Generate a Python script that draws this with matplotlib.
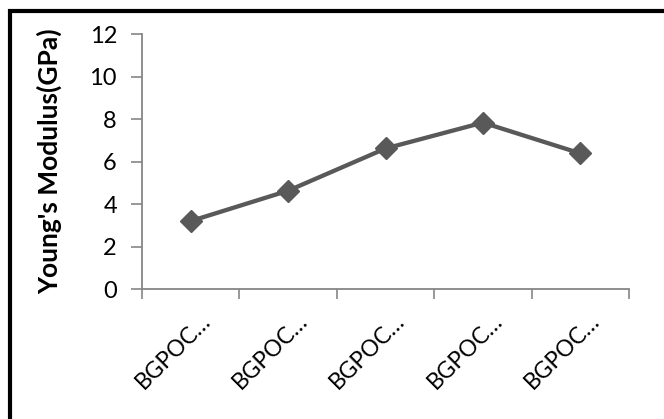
import matplotlib
matplotlib.use("Agg")
import matplotlib.pyplot as plt
from matplotlib.patches import Rectangle
from matplotlib.lines import Line2D

# Data
categories = ["BGPOC…", "BGPOC…", "BGPOC…", "BGPOC…", "BGPOC…"]
modulus_gpa = [3.2, 4.63, 6.62, 7.84, 6.39]
y_ticks = [0, 2, 4, 6, 8, 10, 12]

plt.rcParams["font.family"] = ["Lato", "DejaVu Sans"]

W, H, DPI = 664, 419, 100
fig = plt.figure(figsize=(W / DPI, H / DPI), dpi=DPI)
fig.patch.set_facecolor("white")

# axes box in pixel terms
left_px, right_px, bottom_px, top_px = 142, 629, 289, 34.3
ax = fig.add_axes([left_px / W, 1 - bottom_px / H,
                   (right_px - left_px) / W, (bottom_px - top_px) / H])

x = list(range(len(categories)))
ax.plot(x, modulus_gpa, color="#595959", lw=3.1, marker="D", ms=11,
        mec="#595959", mfc="#595959", solid_joinstyle="miter", zorder=3)

ax.set_xlim(-0.5, len(categories) - 0.5)
ax.set_ylim(0, 12)
ax.set_yticks(y_ticks)
ax.set_yticklabels([str(v) for v in y_ticks], fontsize=17)

# category ticks sit on the boundaries; the slanted labels hang just
# right of each category centre
label_offset = 0.09
ax.set_xticks([i - 0.5 for i in range(len(categories) + 1)])
ax.set_xticklabels([])
ax.set_xticks([i + label_offset for i in x], minor=True)
ax.set_xticklabels(categories, minor=True, rotation=45, ha="right",
                   rotation_mode="anchor", fontsize=16.5)
ax.tick_params(axis="x", which="minor", length=0, pad=15)
ax.tick_params(axis="x", which="major", length=7, width=1.2, color="#868686")
ax.tick_params(axis="y", length=8, width=1.2, color="#868686", pad=10)

for s in ["top", "right"]:
    ax.spines[s].set_visible(False)
for s in ["left", "bottom"]:
    ax.spines[s].set_color("#868686")
    ax.spines[s].set_linewidth(1.3)

ax.set_ylabel("Young's Modulus(GPa)", fontsize=19, fontweight="bold",
              labelpad=20)

# chart frame
fig.add_artist(Rectangle((10 / W, -0.2), 1.2, 1.2 - 11.5 / H + 0.0,
                         transform=fig.transFigure, fill=False,
                         edgecolor="black", lw=3.0))
fig.add_artist(Line2D([663.5 / W, 663.5 / W], [0, 1 - 14 / H],
                      transform=fig.transFigure, color="#d9d9d9", lw=0.8))

fig.savefig("out.png", dpi=DPI, facecolor="white")
